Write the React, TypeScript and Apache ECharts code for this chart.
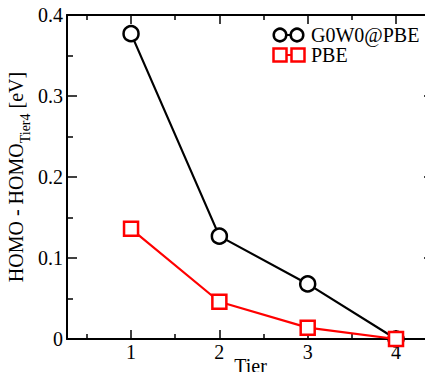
import React, { useEffect, useRef } from "react";
import * as echarts from "echarts";

const tiers = [1, 2, 3, 4];
const g0w0 = [0.377, 0.127, 0.068, 0.0];
const pbe = [0.136, 0.046, 0.014, 0.0];
const xMajorTicks = [1, 2, 3, 4];
const xMinorTicks = [0.5, 1.5, 2.5, 3.5];
const legendNames = ["G0W0@PBE", "PBE"];

const FONT = "Liberation Serif";

export default function App() {
  const ref = useRef<HTMLDivElement>(null);
  useEffect(() => {
    const chart = echarts.init(ref.current!, null, { renderer: "svg" });
    const xMin = 0.275;
    const xMax = 4.43;
    const baseX = {
      type: "value",
      min: xMin,
      max: xMax,
      splitLine: { show: false },
    };
    const makeX = (position: string, major: boolean, showLine: boolean, showLabel: boolean) => ({
      ...baseX,
      position,
      axisLine: { show: showLine, onZero: false, lineStyle: { color: "#000", width: 2 } },
      axisTick: {
        show: true,
        inside: true,
        length: major ? 9 : 5,
        customValues: major ? xMajorTicks : xMinorTicks,
        lineStyle: { color: "#000", width: 1.5 },
      },
      axisLabel: {
        show: showLabel,
        customValues: xMajorTicks,
        color: "#000",
        fontFamily: FONT,
        fontSize: 20,
        margin: 3,
        formatter: (v: number) => String(v),
      },
    });
    const xAxes: any[] = [
      {
        ...makeX("bottom", true, true, true),
        name: "Tier",
        nameLocation: "middle",
        nameGap: 17,
        nameMoveOverlap: false,
        nameTextStyle: { color: "#000", fontFamily: FONT, fontSize: 20, lineHeight: 20 },
      },
      makeX("bottom", false, false, false),
      makeX("top", true, true, false),
      makeX("top", false, false, false),
    ];
    const makeY = (position: string, showLabel: boolean) => ({
      type: "value",
      position,
      min: 0,
      max: 0.4,
      interval: 0.1,
      splitLine: { show: false },
      axisLine: { show: true, onZero: false, lineStyle: { color: "#000", width: 2 } },
      axisTick: { show: true, inside: true, length: 10, lineStyle: { color: "#000", width: 1.5 } },
      minorTick: { show: true, splitNumber: 2, length: 6, lineStyle: { color: "#000", width: 1.5 } },
      axisLabel: {
        show: showLabel,
        color: "#000",
        fontFamily: FONT,
        fontSize: 20,
        margin: 4,
        formatter: (v: number) => (v === 0 ? "0" : v.toFixed(1)),
      },
    });
    const yAxes: any[] = [
      {
        ...makeY("left", true),
        name: "{m|HOMO - HOMO}{s|Tier4}{m| [eV]}",
        nameLocation: "middle",
        nameRotate: 90,
        nameGap: 35,
        nameMoveOverlap: false,
        nameTextStyle: {
          color: "#000",
          fontFamily: FONT,
          fontSize: 20,
          rich: {
            m: { fontFamily: FONT, fontSize: 20, color: "#000", lineHeight: 26, verticalAlign: "top" },
            s: { fontFamily: FONT, fontSize: 14, color: "#000", lineHeight: 26, verticalAlign: "bottom" },
          },
        },
      },
      makeY("right", false),
    ];

    const ss = 14;
    chart.setOption({
      animation: false,
      backgroundColor: "#fff",
      grid: { left: 67, top: 15, width: 367, height: 324, containLabel: false, outerBoundsMode: "none" },
      xAxis: xAxes,
      yAxis: yAxes,
      series: [
        {
          name: legendNames[0],
          type: "line",
          xAxisIndex: 0,
          yAxisIndex: 0,
          data: tiers.map((t, i) => [t, g0w0[i]]),
          symbol: "circle",
          symbolSize: 15,
          lineStyle: { color: "#000", width: 2.2 },
          itemStyle: { color: "#fff", borderColor: "#000", borderWidth: 2.5 },
          z: 3,
        },
        {
          name: legendNames[1],
          type: "line",
          xAxisIndex: 0,
          yAxisIndex: 0,
          data: tiers.map((t, i) => [t, pbe[i]]),
          symbol: "rect",
          symbolSize: ss,
          lineStyle: { color: "#f00", width: 2.2 },
          itemStyle: { color: "#fff", borderColor: "#f00", borderWidth: 2.5 },
          z: 4,
        },
      ],
      graphic: [
        { type: "line", shape: { x1: 280, y1: 35, x2: 297, y2: 35 }, style: { stroke: "#000", lineWidth: 2 } },
        { type: "circle", shape: { cx: 280, cy: 35, r: 6.3 }, style: { fill: "#fff", stroke: "#000", lineWidth: 2.5 } },
        { type: "circle", shape: { cx: 297, cy: 35, r: 6.3 }, style: { fill: "#fff", stroke: "#000", lineWidth: 2.5 } },
        {
          type: "text",
          left: 311,
          top: 25,
          style: { text: legendNames[0], fill: "#000", font: `20px "${FONT}"` },
        },
        { type: "line", shape: { x1: 280, y1: 55, x2: 298, y2: 55 }, style: { stroke: "#f00", lineWidth: 2 } },
        { type: "rect", shape: { x: 273.5, y: 48.5, width: 13, height: 13 }, style: { fill: "#fff", stroke: "#f00", lineWidth: 2.5 } },
        { type: "rect", shape: { x: 291.5, y: 48.5, width: 13, height: 13 }, style: { fill: "#fff", stroke: "#f00", lineWidth: 2.5 } },
        {
          type: "text",
          left: 311,
          top: 45,
          style: { text: legendNames[1], fill: "#000", font: `20px "${FONT}"` },
        },
      ],
    });
    return () => chart.dispose();
  }, []);
  return <div ref={ref} style={{ width: 433, height: 380, margin: -8 }} />;
}
